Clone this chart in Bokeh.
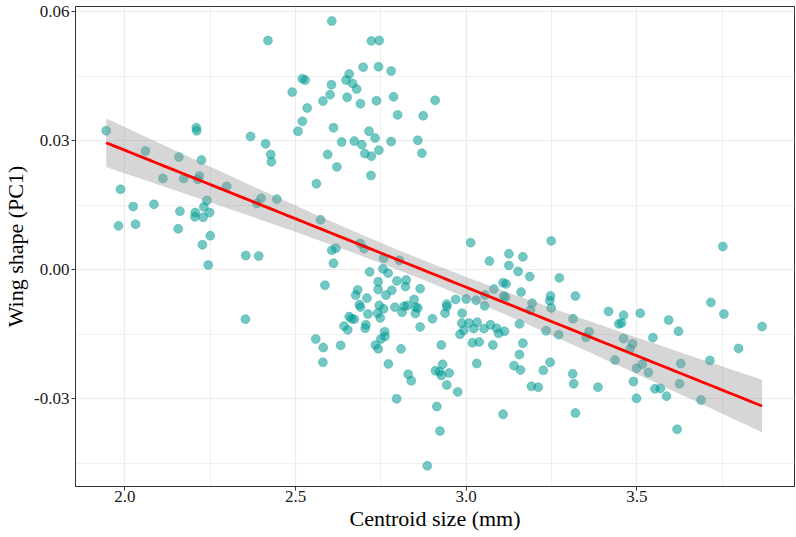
import numpy as np
from bokeh.plotting import figure
from bokeh.models import Range1d, FixedTicker, NumeralTickFormatter
from bokeh.embed import file_html
from bokeh.resources import INLINE

centroid_size = [
    2.419, 2.520, 2.528, 2.490, 2.534, 2.520, 2.507, 1.945, 2.209, 2.210,
    2.368, 2.412, 2.427, 2.429, 2.060, 2.158, 2.224, 2.606, 2.722, 2.745,
    2.698, 2.743, 2.780, 2.657, 2.648, 2.667, 2.605, 2.679, 2.601, 2.651,
    2.787, 2.580, 2.737, 2.690, 2.909, 2.799, 2.874, 2.611, 2.715, 2.733,
    2.635, 2.672, 2.694, 2.780, 2.858, 2.594, 2.703, 2.722, 2.744, 2.870,
    2.621, 1.987, 2.111, 2.172, 2.218, 2.213, 2.298, 2.561, 2.024, 2.085,
    2.240, 2.231, 2.161, 2.206, 2.205, 2.229, 2.248, 1.981, 2.031, 2.156,
    2.250, 2.227, 2.354, 2.392, 2.244, 2.353, 2.399, 2.386, 2.445, 2.721,
    2.573, 2.689, 2.701, 2.606, 2.618, 2.611, 2.758, 2.804, 3.013, 3.249,
    3.125, 3.166, 3.068, 3.125, 3.152, 3.186, 2.717, 2.756, 2.771, 2.586,
    2.742, 2.797, 2.824, 2.682, 2.742, 2.782, 2.822, 2.865, 2.676, 2.765,
    3.108, 3.117, 3.081, 3.161, 2.709, 2.847, 3.110, 3.115, 3.055, 3.000,
    2.969, 3.029, 2.687, 2.690, 2.745, 2.758, 2.791, 2.818, 2.828, 2.852,
    2.858, 2.943, 2.943, 3.054, 3.193, 3.188, 3.245, 3.249, 3.247, 2.657,
    2.664, 2.672, 2.712, 2.740, 2.748, 2.812, 2.851, 2.901, 2.938, 2.988,
    2.642, 2.653, 2.706, 2.704, 2.865, 2.987, 3.008, 3.032, 3.022, 3.052,
    3.071, 3.089, 3.095, 3.112, 3.156, 3.234, 2.982, 2.993, 2.559, 2.581,
    2.580, 2.632, 2.734, 2.742, 2.750, 2.762, 2.761, 2.809, 2.927, 2.772,
    2.830, 2.839, 2.931, 2.910, 2.922, 2.927, 2.950, 2.943, 2.975, 3.018,
    3.038, 3.078, 3.031, 3.166, 3.156, 3.140, 3.159, 3.191, 3.211, 3.226,
    3.246, 2.796, 2.914, 3.108, 2.923, 2.886, 3.752, 3.273, 3.320, 3.417,
    3.461, 3.510, 3.593, 3.717, 3.755, 3.447, 3.455, 3.867, 3.313, 3.271,
    3.360, 3.351, 3.461, 3.487, 3.480, 3.547, 3.622, 3.798, 3.436, 3.499,
    3.516, 3.534, 3.629, 3.714, 3.312, 3.315, 3.386, 3.490, 3.553, 3.569,
    3.625, 3.499, 3.587, 3.688, 3.320, 3.618,
]

wing_shape_pc1 = [
    0.0533, 0.0444, 0.0441, 0.0413, 0.0376, 0.0345, 0.0322, 0.0323, 0.0330, 0.0323,
    0.0310, 0.0293, 0.0268, 0.0251, 0.0276, 0.0262, 0.0255, 0.0578, 0.0532, 0.0533,
    0.0471, 0.0472, 0.0462, 0.0455, 0.0441, 0.0433, 0.0430, 0.0420, 0.0407, 0.0401,
    0.0402, 0.0392, 0.0393, 0.0386, 0.0394, 0.0360, 0.0358, 0.0330, 0.0322, 0.0306,
    0.0297, 0.0299, 0.0291, 0.0298, 0.0301, 0.0268, 0.0270, 0.0264, 0.0278, 0.0271,
    0.0239, 0.0187, 0.0212, 0.0212, 0.0218, 0.0210, 0.0194, 0.0200, 0.0147, 0.0152,
    0.0161, 0.0146, 0.0136, 0.0133, 0.0123, 0.0122, 0.0133, 0.0102, 0.0106, 0.0095,
    0.0079, 0.0058, 0.0033, 0.0032, 0.0011, -0.0115, 0.0166, 0.0154, 0.0164, 0.0219,
    0.0116, 0.0061, 0.0049, 0.0045, 0.0050, 0.0015, 0.0027, 0.0022, 0.0063, 0.0067,
    0.0037, 0.0030, 0.0020, 0.0010, -0.0004, -0.0016, -0.0005, 0.0002, -0.0008, -0.0036,
    -0.0028, -0.0026, -0.0024, -0.0047, -0.0046, -0.0048, -0.0039, -0.0044, -0.0059, -0.0059,
    -0.0030, -0.0033, -0.0045, -0.0052, -0.0066, -0.0069, -0.0061, -0.0064, -0.0059, -0.0068,
    -0.0069, -0.0071, -0.0081, -0.0087, -0.0083, -0.0091, -0.0087, -0.0085, -0.0083, -0.0087,
    -0.0089, -0.0080, -0.0086, -0.0084, -0.0078, -0.0094, -0.0072, -0.0089, -0.0061, -0.0109,
    -0.0114, -0.0115, -0.0103, -0.0101, -0.0112, -0.0099, -0.0102, -0.0114, -0.0101, -0.0101,
    -0.0131, -0.0140, -0.0128, -0.0136, -0.0133, -0.0124, -0.0124, -0.0122, -0.0137, -0.0137,
    -0.0128, -0.0136, -0.0148, -0.0143, -0.0126, -0.0142, -0.0150, -0.0141, -0.0161, -0.0181,
    -0.0215, -0.0176, -0.0175, -0.0184, -0.0161, -0.0155, -0.0144, -0.0184, -0.0175, -0.0219,
    -0.0243, -0.0258, -0.0220, -0.0235, -0.0237, -0.0246, -0.0240, -0.0268, -0.0284, -0.0170,
    -0.0168, -0.0175, -0.0218, -0.0171, -0.0197, -0.0223, -0.0233, -0.0271, -0.0273, -0.0234,
    -0.0215, -0.0300, -0.0318, -0.0336, -0.0375, -0.0456, 0.0054, -0.0019, -0.0061, -0.0097,
    -0.0106, -0.0101, -0.0117, -0.0076, -0.0103, -0.0126, -0.0124, -0.0132, -0.0114, -0.0151,
    -0.0144, -0.0157, -0.0160, -0.0172, -0.0184, -0.0158, -0.0143, -0.0183, -0.0210, -0.0229,
    -0.0220, -0.0239, -0.0218, -0.0211, -0.0242, -0.0265, -0.0273, -0.0260, -0.0277, -0.0276,
    -0.0265, -0.0299, -0.0294, -0.0303, -0.0333, -0.0371,
]

x_ticks = [2.0, 2.5, 3.0, 3.5]
x_minor = [2.25, 2.75, 3.25, 3.75]
y_ticks = [-0.03, 0.0, 0.03, 0.06]
y_minor = [-0.045, -0.015, 0.015, 0.045]

# linear model fit with 95% confidence band (geom_smooth(method = "lm"))
x = np.array(centroid_size)
y = np.array(wing_shape_pc1)
n = len(x)
slope, intercept = np.polyfit(x, y, 1)
xs = np.linspace(x.min(), x.max(), 80)
yhat = intercept + slope * xs
resid = y - (intercept + slope * x)
s = np.sqrt(np.sum(resid ** 2) / (n - 2))
sxx = np.sum((x - x.mean()) ** 2)
se = s * np.sqrt(1.0 / n + (xs - x.mean()) ** 2 / sxx)
t_crit = 1.9697
lower = yhat - t_crit * se
upper = yhat + t_crit * se

FONT = "Liberation Serif"

p = figure(width=795, height=533, output_backend="svg", toolbar_location=None,
           x_range=Range1d(1.855, 3.962), y_range=Range1d(-0.0504, 0.0612),
           min_border_left=60, min_border_right=1, min_border_top=6, min_border_bottom=0,
           background_fill_color="white", border_fill_color="white")

p.scatter(x=centroid_size, y=wing_shape_pc1, size=9, marker="circle",
          fill_color="#009A93", fill_alpha=0.55,
          line_color="#009A93", line_alpha=0.55, line_width=0.6)
p.varea(x=xs, y1=lower, y2=upper, fill_color="#999999", fill_alpha=0.4)
p.line(x=xs, y=yhat, line_color="#FF0000", line_width=2.8)

xt = FixedTicker(ticks=x_ticks, minor_ticks=x_minor)
yt = FixedTicker(ticks=y_ticks, minor_ticks=y_minor)
p.xaxis.ticker = xt
p.yaxis.ticker = yt
p.xgrid.ticker = xt
p.ygrid.ticker = yt
p.xaxis.formatter = NumeralTickFormatter(format="0.0")
p.yaxis.formatter = NumeralTickFormatter(format="0.00")

for g in (p.xgrid, p.ygrid):
    g.grid_line_color = "#EBEBEB"
    g.grid_line_width = 1.2
    g.minor_grid_line_color = "#EBEBEB"
    g.minor_grid_line_width = 0.8

p.xaxis.axis_label = "Centroid size (mm)"
p.yaxis.axis_label = "Wing shape (PC1)"
for ax in (p.xaxis, p.yaxis):
    ax.axis_label_text_font = FONT
    ax.axis_label_text_font_size = "22px"
    ax.axis_label_text_font_style = "normal"
    ax.axis_label_text_color = "black"
    ax.major_label_text_font = FONT
    ax.major_label_text_font_size = "17px"
    ax.major_label_text_color = "#1A1A1A"
    ax.axis_line_color = "#333333"
    ax.axis_line_width = 1
    ax.major_tick_line_color = "#333333"
    ax.major_tick_out = 4
    ax.major_tick_in = 0
    ax.minor_tick_out = 0
    ax.minor_tick_in = 0

p.xaxis.major_label_standoff = 0
p.xaxis.axis_label_standoff = 1
p.yaxis.major_label_standoff = 2
p.yaxis.axis_label_standoff = 3

p.outline_line_color = "#333333"
p.outline_line_width = 1
p.outline_line_alpha = 1

open("out.html", "w").write(file_html(p, INLINE))
